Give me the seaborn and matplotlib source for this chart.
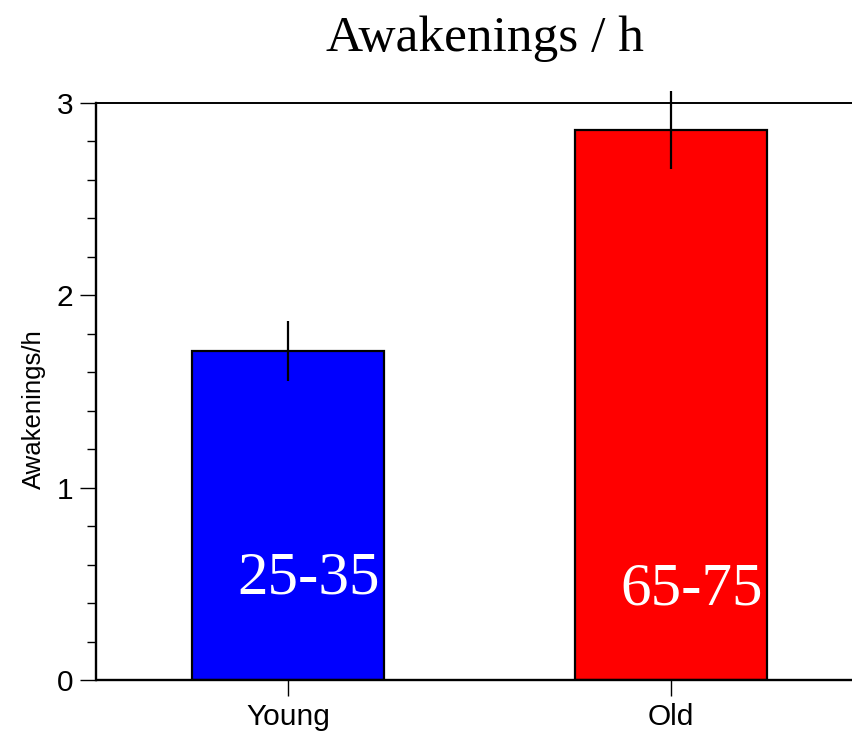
import matplotlib
matplotlib.use("Agg")
import matplotlib.pyplot as plt
from matplotlib.ticker import MultipleLocator
import seaborn as sns

# Data
groups = ["Young", "Old"]
means = [1.71, 2.86]
errors = [0.155, 0.203]
age_ranges = ["25-35", "65-75"]
bar_colors = ["#0000ff", "#ff0000"]
label_heights = [0.447, 0.390]

sns.set_style("ticks")
plt.rcParams["font.family"] = ["Liberation Sans", "DejaVu Sans"]
plt.rcParams["text.color"] = "black"
plt.rcParams["axes.labelcolor"] = "black"
plt.rcParams["xtick.color"] = "black"
plt.rcParams["ytick.color"] = "black"

fig = plt.figure(figsize=(8.53, 7.32), dpi=100)
ax = fig.add_axes([96.5 / 853, 52 / 732, 766 / 853, 577.3 / 732])

sns.barplot(x=groups, y=means, hue=groups, palette=bar_colors, legend=False,
            width=0.5, edgecolor="black", linewidth=1.6, saturation=1, ax=ax)
eb = ax.errorbar(range(len(groups)), means, yerr=errors, fmt="none",
                 ecolor="black", elinewidth=1.6, capsize=0)
for coll in eb.lines[2]:
    coll.set_clip_on(False)

for i, txt in enumerate(age_ranges):
    ax.text(i + 0.055, label_heights[i], txt, color="white", ha="center",
            va="baseline", fontsize=44, family=["Liberation Serif"])

ax.set_xlim(-0.5, 1.5)
ax.set_ylim(0, 3)
ax.yaxis.set_major_locator(MultipleLocator(1))
ax.yaxis.set_minor_locator(MultipleLocator(0.2))
ax.tick_params(axis="both", which="major", length=11.5, width=1, labelsize=21.5, pad=5, color="black")
ax.tick_params(axis="y", which="minor", length=6.5, width=1, color="black")
ax.tick_params(axis="x", which="minor", bottom=False)

for side in ["left", "bottom"]:
    ax.spines[side].set_linewidth(1.7)
ax.spines["top"].set_linewidth(1.4)
ax.spines["right"].set_visible(False)
for s in ax.spines.values():
    s.set_color("black")

ax.set_xlabel("")
ax.set_ylabel("Awakenings/h", fontsize=18.5, color="black")
ax.yaxis.set_label_coords(-0.066, 0.47)
ax.set_title("Awakenings / h", fontsize=37, family=["Liberation Serif"], pad=37, x=0.507,
             color="black")

fig.savefig("out.png", dpi=100)
